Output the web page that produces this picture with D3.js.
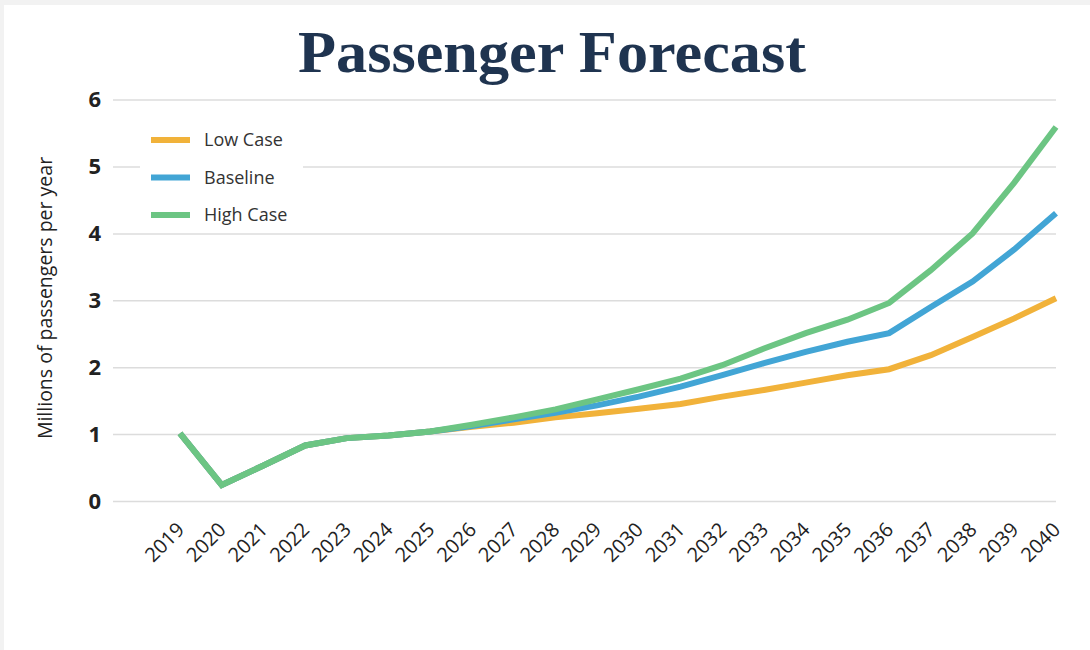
<!DOCTYPE html>
<html lang="en">
<head>
<meta charset="UTF-8">
<title>Passenger Forecast</title>
<script src="https://cdn.jsdelivr.net/npm/d3@7"></script>
<style>
  html, body { margin: 0; padding: 0; background: #f2f2f2; }
  #chart { position: absolute; left: 4px; top: 5px; }
</style>
</head>
<body>
<div id="chart"></div>
<script>
  const years = [2019, 2020, 2021, 2022, 2023, 2024, 2025, 2026, 2027, 2028, 2029,
    2030, 2031, 2032, 2033, 2034, 2035, 2036, 2037, 2038, 2039, 2040];

  const lowCase = [1.01, 0.24, 0.53, 0.83, 0.94, 0.98, 1.04, 1.11, 1.17, 1.25, 1.31,
    1.38, 1.45, 1.56, 1.66, 1.77, 1.88, 1.97, 2.18, 2.45, 2.73, 3.03];
  const baseline = [1.01, 0.24, 0.53, 0.83, 0.94, 0.98, 1.04, 1.12, 1.22, 1.32, 1.43,
    1.56, 1.71, 1.88, 2.06, 2.23, 2.38, 2.51, 2.90, 3.28, 3.76, 4.30];
  const highCase = [1.01, 0.24, 0.53, 0.83, 0.94, 0.98, 1.04, 1.14, 1.25, 1.37, 1.52,
    1.67, 1.83, 2.03, 2.28, 2.51, 2.71, 2.96, 3.45, 4.00, 4.76, 5.59];

  const yTicks = [0, 1, 2, 3, 4, 5, 6];
  const seriesNames = ["Low Case", "Baseline", "High Case"];
  const seriesColors = ["#f1b23a", "#42a5d5", "#6cc583"];
  const seriesValues = [lowCase, baseline, highCase];

  const W = 1086, H = 645;
  const svg = d3.select("#chart").append("svg")
    .attr("width", W).attr("height", H)
    .style("background", "#fff");

  // title
  svg.append("text")
    .attr("x", 548).attr("y", 67)
    .attr("text-anchor", "middle")
    .attr("textLength", 508)
    .attr("lengthAdjust", "spacingAndGlyphs")
    .style("font-family", "'Liberation Serif', 'DejaVu Serif', serif")
    .style("font-weight", "bold")
    .style("font-size", "60px")
    .style("fill", "#1f3450")
    .text("Passenger Forecast");

  const left = 109, right = 1052;
  const x = d3.scaleLinear().domain([years[0], years[years.length - 1]]).range([176, 1052]);
  const y = d3.scaleLinear().domain([0, 6]).range([496, 94.6]);

  // y axis + gridlines
  const yAxis = svg.append("g")
    .attr("transform", "translate(" + left + ",0)")
    .call(d3.axisLeft(y).tickValues(yTicks).tickFormat(d3.format("d"))
      .tickSize(-(right - left)).tickPadding(12));
  yAxis.select(".domain").remove();
  yAxis.selectAll(".tick line").attr("stroke", "#dcdcdc").attr("stroke-width", 1.5);
  yAxis.selectAll("text")
    .style("font-family", "'Open Sans', sans-serif")
    .style("font-weight", "bold")
    .style("font-size", "22px")
    .style("fill", "#222");

  // y axis title
  svg.append("text")
    .attr("transform", "translate(48,293) rotate(-90)")
    .attr("text-anchor", "middle")
    .style("font-family", "'Open Sans', sans-serif")
    .style("font-size", "19.5px")
    .style("fill", "#222")
    .text("Millions of passengers per year");

  // x axis labels
  const xAxis = svg.append("g")
    .attr("transform", "translate(0,496)")
    .call(d3.axisBottom(x).tickValues(years).tickFormat(d3.format("d")).tickSize(0));
  xAxis.select(".domain").remove();
  xAxis.selectAll("text")
    .attr("x", 0).attr("y", 0).attr("dy", 0)
    .attr("transform", "translate(5,30) rotate(-45)")
    .style("text-anchor", "end")
    .style("font-family", "'Open Sans', sans-serif")
    .style("font-size", "20px")
    .style("fill", "#222");

  // legend background hides the gridline behind it
  const legend = svg.append("g");
  legend.append("rect")
    .attr("x", 136).attr("y", 118).attr("width", 163).attr("height", 110)
    .attr("fill", "#fff");

  // lines
  const line = d3.line()
    .x(function (d, i) { return x(years[i]); })
    .y(function (d) { return y(d); });

  seriesValues.forEach(function (vals, k) {
    svg.append("path")
      .datum(vals)
      .attr("d", line)
      .attr("fill", "none")
      .attr("stroke", seriesColors[k])
      .attr("stroke-width", 6)
      .attr("stroke-linejoin", "miter");
  });

  // legend entries
  seriesNames.forEach(function (name, k) {
    const ly = 135 + k * 37.5;
    legend.append("line")
      .attr("x1", 147).attr("x2", 186)
      .attr("y1", ly).attr("y2", ly)
      .attr("stroke", seriesColors[k])
      .attr("stroke-width", 6);
    legend.append("text")
      .attr("x", 200).attr("y", ly)
      .attr("dy", "0.35em")
      .style("font-family", "'Open Sans', sans-serif")
      .style("font-size", "18px")
      .style("fill", "#333")
      .text(name);
  });
</script>
</body>
</html>
